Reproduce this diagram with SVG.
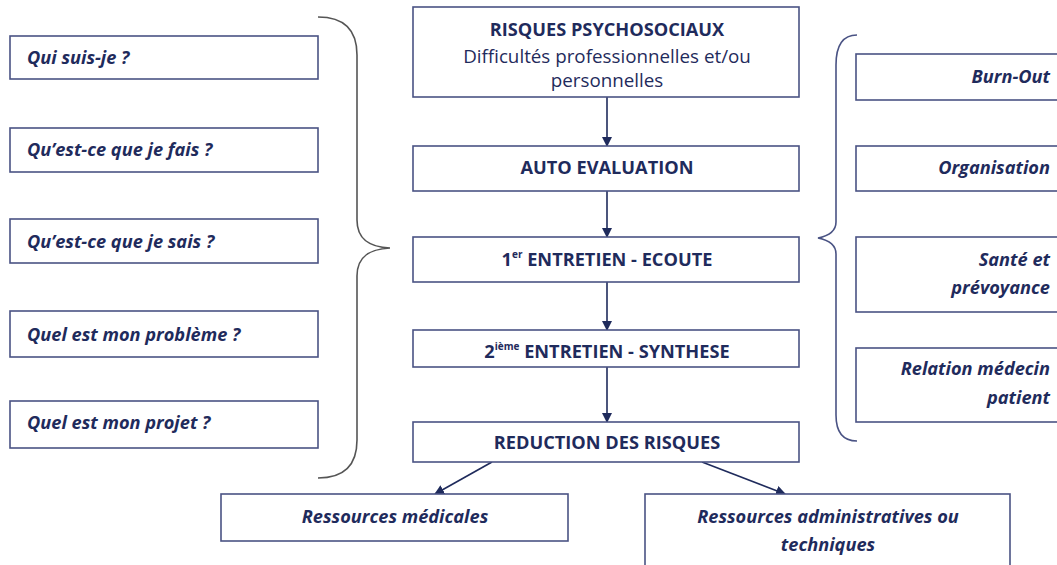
<svg xmlns="http://www.w3.org/2000/svg" width="1057" height="565" viewBox="0 0 1057 565">
<style>
.box{fill:#fff;stroke:#4a5384;stroke-width:1.6}
.t{font-family:"Open Sans","Noto Sans","Liberation Sans",sans-serif;fill:#1f2b5c}
.bi{font-weight:bold;font-style:italic;font-size:18.2px}
.b{font-weight:bold;font-size:18.2px}
.r{font-size:18.8px}
.c{text-anchor:middle}
.e{text-anchor:end}
.sup{font-size:10px}
.conn{stroke:#1f2b5c;stroke-width:1.6;fill:none}
</style>
<defs>
<marker id="ah" markerWidth="10" markerHeight="10" refX="9" refY="5" orient="auto" markerUnits="userSpaceOnUse">
<path d="M0,0 L10,5 L0,10 z" fill="#1f2b5c"/>
</marker>
</defs>
<rect width="1057" height="565" fill="#fff"/>
<g id="braces">
<path d="M318,17 C345,17 357,30 357,55 L357,220 C357,240 370,247 390,248 C370,249 357,256 357,276 L357,440 C357,465 345,478 318,478" fill="none" stroke="#555" stroke-width="1.6"/>
<path d="M857,35 C843,35 836,45 836,65 L836,222 C836,232 828,236 818,238 C828,240 836,244 836,254 L836,415 C836,432 843,441 857,441" fill="none" stroke="#4a5384" stroke-width="1.6"/>
</g>
<g id="connectors">
<line class="conn" x1="607" y1="97" x2="607" y2="146" marker-end="url(#ah)"/>
<line class="conn" x1="607" y1="191" x2="607" y2="237" marker-end="url(#ah)"/>
<line class="conn" x1="607" y1="282" x2="607" y2="330" marker-end="url(#ah)"/>
<line class="conn" x1="607" y1="367" x2="607" y2="422" marker-end="url(#ah)"/>
<line class="conn" x1="492" y1="462" x2="435" y2="494" marker-end="url(#ah)"/>
<line class="conn" x1="702" y1="462" x2="785" y2="494" marker-end="url(#ah)"/>
</g>
<g id="q1"><rect class="box" x="10" y="36" width="308" height="43"/><text class="t bi" x="27" y="64">Qui suis-je ?</text></g>
<g id="q2"><rect class="box" x="10" y="128" width="308" height="44"/><text class="t bi" x="27" y="156">Qu’est-ce que je fais ?</text></g>
<g id="q3"><rect class="box" x="10" y="219" width="308" height="44"/><text class="t bi" x="27" y="248">Qu’est-ce que je sais ?</text></g>
<g id="q4"><rect class="box" x="10" y="311" width="308" height="46"/><text class="t bi" x="27" y="341">Quel est mon problème ?</text></g>
<g id="q5"><rect class="box" x="10" y="401" width="308" height="47"/><text class="t bi" x="27" y="429">Quel est mon projet ?</text></g>
<g id="rps"><rect class="box" x="413" y="7" width="386" height="90"/>
<text class="t b c" x="607" y="36">RISQUES PSYCHOSOCIAUX</text>
<text class="t r c" x="607" y="63">Difficultés professionnelles et/ou</text>
<text class="t r c" x="607" y="87">personnelles</text></g>
<g id="auto"><rect class="box" x="413" y="146" width="386" height="45"/><text class="t b c" x="607" y="174">AUTO EVALUATION</text></g>
<g id="e1"><rect class="box" x="413" y="237" width="386" height="45"/><text class="t b c" x="607" y="266">1<tspan class="sup" dy="-8">er</tspan><tspan dy="8"> ENTRETIEN - ECOUTE</tspan></text></g>
<g id="e2"><rect class="box" x="413" y="330" width="386" height="37"/><text class="t b c" x="607" y="358">2<tspan class="sup" dy="-8">ième</tspan><tspan dy="8"> ENTRETIEN - SYNTHESE</tspan></text></g>
<g id="red"><rect class="box" x="413" y="422" width="386" height="40"/><text class="t b c" x="607" y="449">REDUCTION DES RISQUES</text></g>
<g id="med"><rect class="box" x="221" y="494" width="347" height="47"/><text class="t bi c" x="395" y="523">Ressources médicales</text></g>
<g id="adm"><rect class="box" x="645" y="494" width="365" height="80"/><text class="t bi c" x="828" y="523">Ressources administratives ou</text><text class="t bi c" x="828" y="551">techniques</text></g>
<g id="burn"><rect class="box" x="856" y="54" width="210" height="46"/><text class="t bi e" x="1050" y="83">Burn-Out</text></g>
<g id="org"><rect class="box" x="856" y="146" width="210" height="45"/><text class="t bi e" x="1050" y="174">Organisation</text></g>
<g id="sante"><rect class="box" x="856" y="237" width="210" height="75"/><text class="t bi e" x="1050" y="266">Santé et</text><text class="t bi e" x="1050" y="294">prévoyance</text></g>
<g id="rel"><rect class="box" x="856" y="348" width="210" height="74"/><text class="t bi e" x="1050" y="375">Relation médecin</text><text class="t bi e" x="1050" y="404">patient</text></g>
</svg>
